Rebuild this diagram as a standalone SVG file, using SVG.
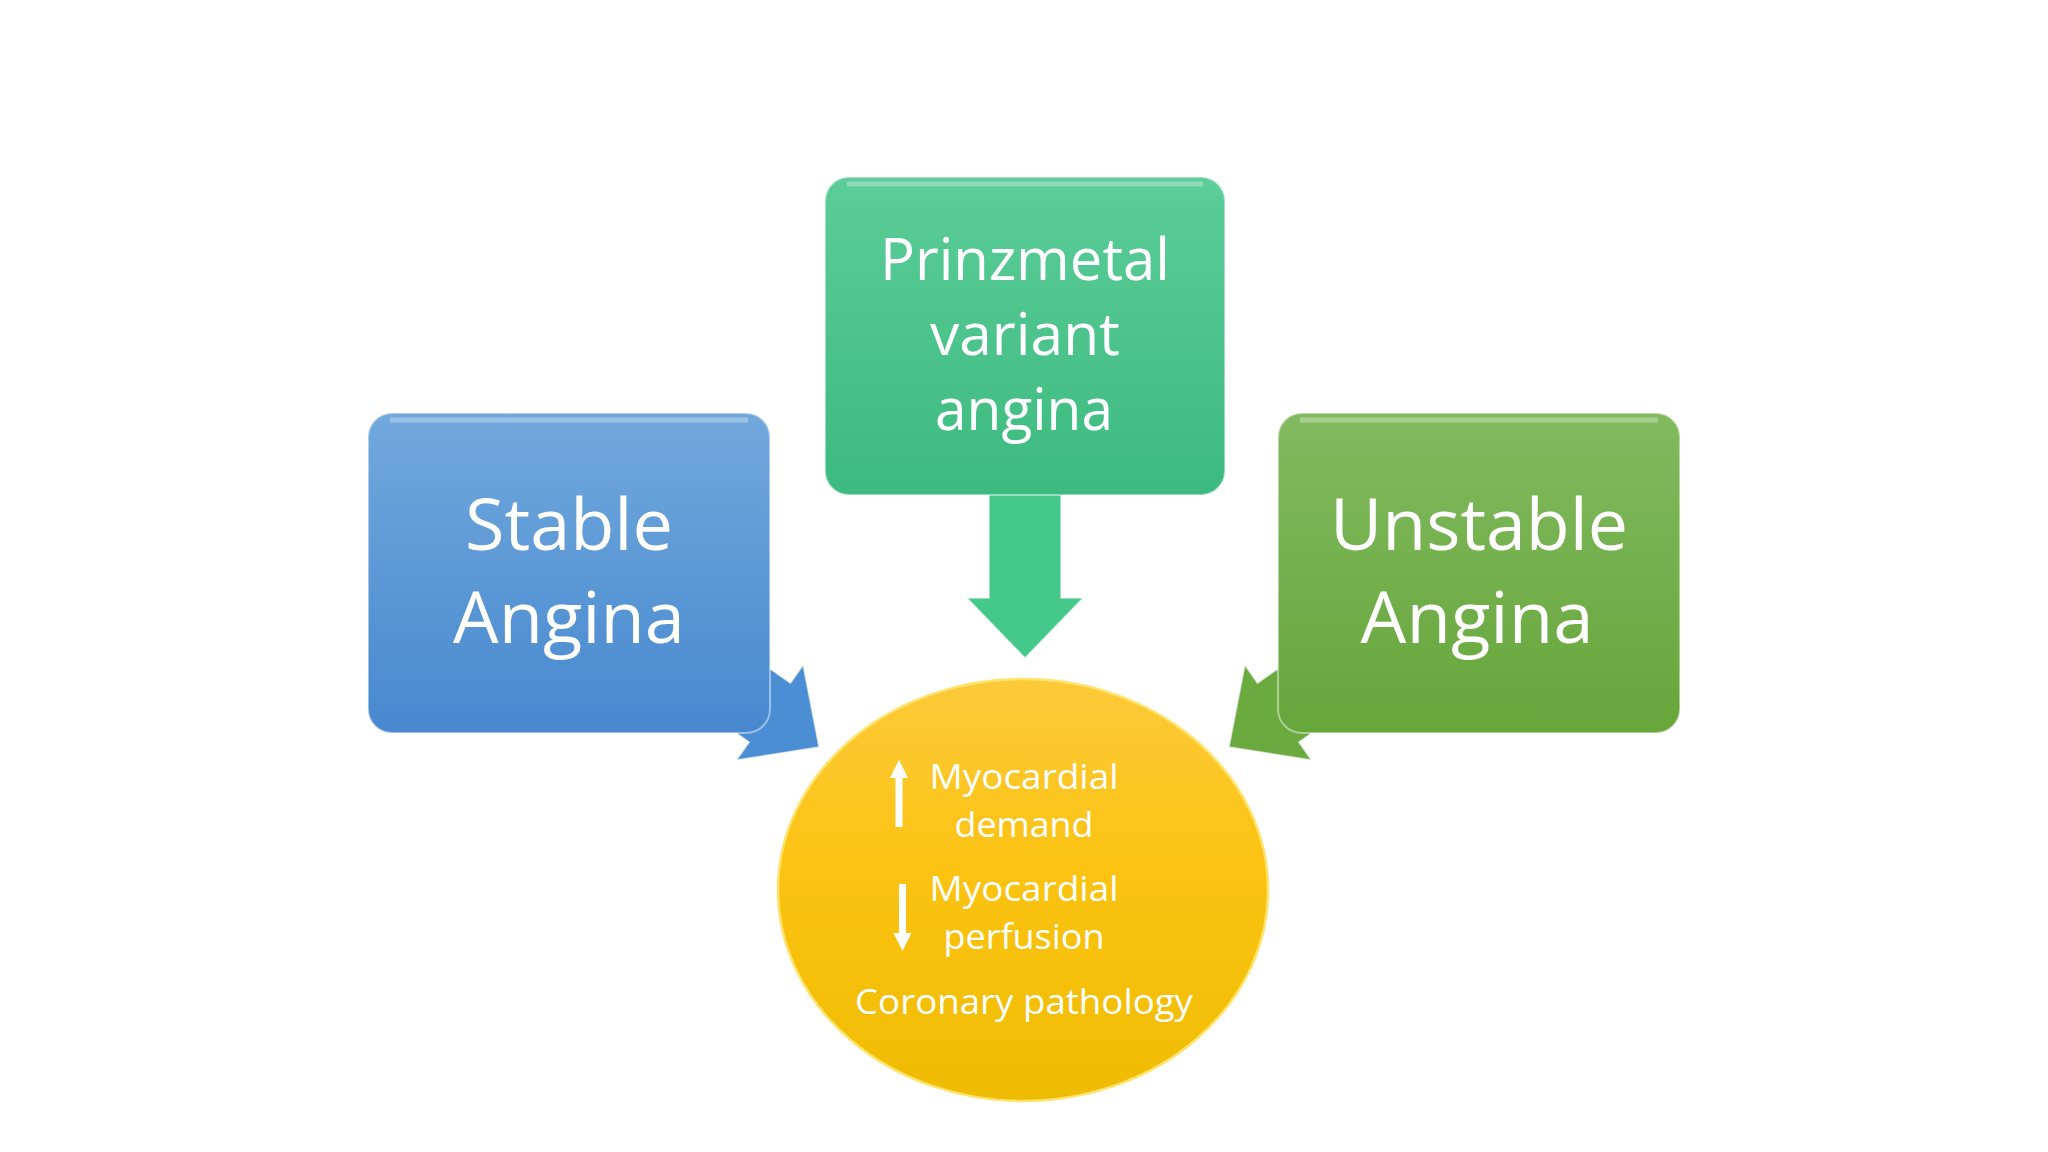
<svg xmlns="http://www.w3.org/2000/svg" width="2048" height="1152" viewBox="0 0 2048 1152">
  <defs>
    <linearGradient id="gBlue" x1="0" y1="0" x2="0" y2="1">
      <stop offset="0" stop-color="#72a9dd"/>
      <stop offset="1" stop-color="#4788cf"/>
    </linearGradient>
    <linearGradient id="gTeal" x1="0" y1="0" x2="0" y2="1">
      <stop offset="0" stop-color="#5ccd98"/>
      <stop offset="1" stop-color="#3cba80"/>
    </linearGradient>
    <linearGradient id="gGreen" x1="0" y1="0" x2="0" y2="1">
      <stop offset="0" stop-color="#82ba60"/>
      <stop offset="1" stop-color="#66a63a"/>
    </linearGradient>
    <linearGradient id="gYellow" x1="0" y1="0" x2="0" y2="1">
      <stop offset="0" stop-color="#fcca3a"/>
      <stop offset="0.45" stop-color="#fcc312"/>
      <stop offset="1" stop-color="#eebc02"/>
    </linearGradient>
    <polygon id="blockArrow" points="0,0 -60,-58 -60,-36 -200,-36 -200,36 -60,36 -60,58"/>
    <polygon id="smallUp" points="0,0 -9,18 -3.5,18 -3.5,67 3.5,67 3.5,18 9,18"/>
  </defs>
  <style>
    .box { stroke: rgba(255,255,255,0.45); stroke-width: 2; }
    .rim { fill: none; stroke: rgba(255,255,255,0.3); stroke-width: 5; }
    .arrow { stroke: rgba(255,255,255,0.6); stroke-width: 1.5; stroke-linejoin: miter; }
    .big { font-family: "Open Sans", "Liberation Sans", sans-serif; fill: #ffffff; text-anchor: middle; }
    .small { font-family: "Open Sans", "Liberation Sans", sans-serif; fill: #ffffff; text-anchor: middle; font-size: 35px; }
  </style>
  <rect x="0" y="0" width="2048" height="1152" fill="#ffffff"/>

  <g id="connectors">
    <use href="#blockArrow" class="arrow" fill="#4c8ed3" transform="translate(819,747) rotate(35)"/>
    <use href="#blockArrow" class="arrow" fill="#45c98b" transform="translate(1025,658) rotate(90)"/>
    <use href="#blockArrow" class="arrow" fill="#6aaa3f" transform="translate(1229,747) rotate(145)"/>
  </g>

  <g id="stable">
    <rect class="box" x="368" y="413" width="402" height="320" rx="24" fill="url(#gBlue)"/>
    <path class="rim" d="M390,420 H748"/>
    <text class="big" x="569" y="550" font-size="72" textLength="208" lengthAdjust="spacingAndGlyphs">Stable</text>
    <text class="big" x="569" y="643" font-size="72" textLength="232" lengthAdjust="spacingAndGlyphs">Angina</text>
  </g>

  <g id="prinzmetal">
    <rect class="box" x="825" y="177" width="400" height="318" rx="24" fill="url(#gTeal)"/>
    <path class="rim" d="M847,184 H1203"/>
    <text class="big" x="1025" y="280" font-size="58" textLength="290" lengthAdjust="spacingAndGlyphs">Prinzmetal</text>
    <text class="big" x="1025" y="355" font-size="58" textLength="190" lengthAdjust="spacingAndGlyphs">variant</text>
    <text class="big" x="1024" y="430" font-size="58" textLength="178" lengthAdjust="spacingAndGlyphs">angina</text>
  </g>

  <g id="unstable">
    <rect class="box" x="1278" y="413" width="402" height="320" rx="24" fill="url(#gGreen)"/>
    <path class="rim" d="M1300,420 H1658"/>
    <text class="big" x="1479" y="550" font-size="72" textLength="298" lengthAdjust="spacingAndGlyphs">Unstable</text>
    <text class="big" x="1477" y="643" font-size="72" textLength="233" lengthAdjust="spacingAndGlyphs">Angina</text>
  </g>

  <g id="pathology">
    <ellipse cx="1023" cy="890" rx="245" ry="211" fill="url(#gYellow)" stroke="#ffe36a" stroke-width="2.5"/>
    <use href="#smallUp" fill="#ffffff" transform="translate(899,760)"/>
    <use href="#smallUp" fill="#ffffff" transform="translate(902.5,951) rotate(180)"/>
    <text class="small" x="1024" y="789" textLength="189" lengthAdjust="spacingAndGlyphs">Myocardial</text>
    <text class="small" x="1024" y="837" textLength="139" lengthAdjust="spacingAndGlyphs">demand</text>
    <text class="small" x="1024" y="901" textLength="189" lengthAdjust="spacingAndGlyphs">Myocardial</text>
    <text class="small" x="1024" y="949" textLength="161" lengthAdjust="spacingAndGlyphs">perfusion</text>
    <text class="small" x="1024" y="1014" textLength="338" lengthAdjust="spacingAndGlyphs">Coronary pathology</text>
  </g>
</svg>
